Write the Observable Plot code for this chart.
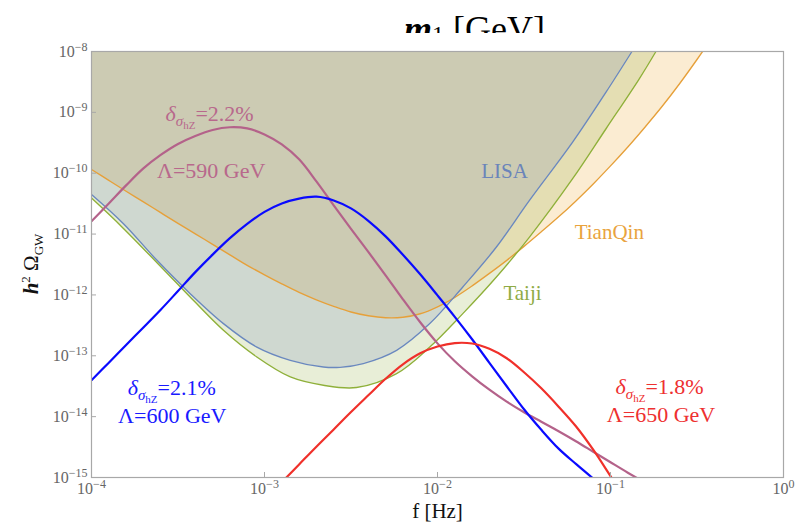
<!DOCTYPE html>
<html><head><meta charset="utf-8">
<script src="https://cdn.jsdelivr.net/npm/d3@7"></script>
<script src="https://cdn.jsdelivr.net/npm/@observablehq/plot@0.6"></script>
<style>
body{margin:0;background:#fff;}
#wrap{position:relative;width:806px;height:527px;}
#title{position:absolute;left:404px;top:0;height:33px;width:170px;overflow:hidden;z-index:2;}
#title .t{position:absolute;top:11px;left:0;font-family:"Liberation Serif";font-size:36px;line-height:36px;white-space:nowrap;color:#000;}
#title .s{font-size:24px;position:relative;top:1px;}
</style></head>
<body><div id="wrap"><div id="title"><div class="t"><b><i>m</i></b><span class="s">1</span> [GeV]</div></div></div>
<script>
// ---- frequency grid (Hz), tenth-decade steps ----
const freq = [1e-4, 1.259e-4, 1.585e-4, 1.995e-4, 2.512e-4, 3.162e-4, 3.981e-4, 5.012e-4, 6.310e-4, 7.943e-4,
  1e-3, 1.259e-3, 1.585e-3, 1.995e-3, 2.512e-3, 3.162e-3, 3.981e-3, 5.012e-3, 6.310e-3, 7.943e-3,
  1e-2, 1.259e-2, 1.585e-2, 1.995e-2, 2.512e-2, 3.162e-2, 3.981e-2, 5.012e-2, 6.310e-2, 7.943e-2,
  0.1, 0.1259, 0.1585, 0.1995, 0.2512, 0.3162, 0.3981];

// ---- detector sensitivity curves (h^2 Omega_GW) ----
const lisaF = [1e-4, 1.53e-4, 2.39e-4, 3.72e-4, 5.79e-4, 9.03e-4, 1.41e-3, 2.19e-3, 2.73e-3, 3.72e-3, 5.80e-3, 9.02e-3, 1.40e-2, 2.19e-2, 3.40e-2, 6.04e-2, 9.42e-2, 0.133];
const lisaV = [4.47e-11, 1.48e-11, 3.70e-12, 1.05e-12, 3.38e-13, 1.39e-13, 8.43e-14, 6.54e-14, 6.46e-14, 7.45e-14, 1.23e-13, 3.38e-13, 1.35e-12, 6.12e-12, 3.57e-11, 3.24e-10, 2.15e-9, 1e-8];
const taijiF = [1e-4, 1.53e-4, 3.33e-4, 5.79e-4, 9.03e-4, 1.41e-3, 2.19e-3, 3.40e-3, 5.80e-3, 9.02e-3, 1.40e-2, 2.19e-2, 3.40e-2, 6.04e-2, 9.42e-2, 0.1466, 0.183];
const taijiV = [3.90e-11, 1.24e-11, 1.28e-12, 2.62e-13, 9.55e-14, 4.49e-14, 3.28e-14, 3.01e-14, 5.10e-14, 1.39e-13, 4.93e-13, 1.97e-12, 8.93e-12, 8.12e-11, 5.38e-10, 3.56e-9, 1e-8];
const tianqinF = freq.slice(0, 37);
const tianqinV = [1.15e-10, 7.62e-11, 5.06e-11, 3.38e-11, 2.25e-11, 1.50e-11, 1.01e-11, 6.78e-12, 4.56e-12, 3.06e-12,
  2.14e-12, 1.52e-12, 1.10e-12, 8.32e-13, 6.50e-13, 5.24e-13, 4.54e-13, 4.21e-13, 4.29e-13, 4.90e-13,
  6.38e-13, 9.14e-13, 1.41e-12, 2.26e-12, 3.70e-12, 6.28e-12, 1.09e-11, 1.92e-11, 3.51e-11, 6.67e-11,
  1.32e-10, 2.70e-10, 5.76e-10, 1.27e-9, 2.98e-9, 7.39e-9, 1.90e-8];

// ---- GW spectra ----
const purpleF = freq.slice(0, 33);
const purpleV = [1.62e-11, 3.19e-11, 6.31e-11, 1.20e-10, 2.00e-10, 3.03e-10, 4.10e-10, 5.14e-10, 5.69e-10, 5.44e-10,
  4.34e-10, 2.97e-10, 1.69e-10, 7.33e-11, 2.96e-11, 1.22e-11, 5.10e-12, 2.10e-12, 8.47e-13, 3.55e-13,
  1.60e-13, 8.13e-14, 4.60e-14, 2.77e-14, 1.76e-14, 1.18e-14, 8.24e-15, 5.75e-15, 3.94e-15, 2.65e-15,
  1.78e-15, 1.20e-15, 8.22e-16];
const blueF = freq.slice(0, 30);
const blueV = [3.96e-14, 7.71e-14, 1.51e-13, 2.92e-13, 5.71e-13, 1.16e-12, 2.37e-12, 4.60e-12, 8.57e-12, 1.47e-11,
  2.32e-11, 3.19e-11, 3.83e-11, 4.11e-11, 3.57e-11, 2.64e-11, 1.65e-11, 9.16e-12, 4.56e-12, 2.18e-12,
  9.84e-13, 4.37e-13, 1.87e-13, 7.67e-14, 3.16e-14, 1.32e-14, 6.07e-15, 2.98e-15, 1.67e-15, 9.6e-16];
const redF = freq.slice(11, 32);
const redV = [8.37e-16, 1.64e-15, 3.21e-15, 6.17e-15, 1.19e-14, 2.24e-14, 4.19e-14, 7.25e-14, 1.10e-13, 1.42e-13,
  1.62e-13, 1.59e-13, 1.30e-13, 9.10e-14, 5.36e-14, 2.92e-14, 1.46e-14, 6.95e-15, 2.86e-15, 1.05e-15, 3.79e-16];

// ---- ticks ----
const xTicks = [1e-4, 1e-3, 1e-2, 1e-1, 1];
const yTicks = [1e-15, 1e-14, 1e-13, 1e-12, 1e-11, 1e-10, 1e-9, 1e-8];

// ---- labels ----
const detNames = ["LISA", "TianQin", "Taiji"];
const detLabelF = [2.44e-2, 9.84e-2, 3.10e-2];
const detLabelV = [8.2e-11, 8.2e-12, 8.1e-13];
const detColors = ["#6a84ba", "#e9a33e", "#8fab45"];
const noteF = [4.85e-4, 2.93e-4, 0.1936];
const noteV = [7.1e-10, 2.25e-14, 2.33e-14];
const notePct = ["=2.2%", "=2.1%", "=1.8%"];
const lambdaText = ["Λ=590 GeV", "Λ=600 GeV", "Λ=650 GeV"];
const lambdaF = [4.92e-4, 2.93e-4, 0.196];
const lambdaV = [8.2e-11, 7.8e-15, 8.1e-15];
const noteColors = ["#b8688c", "#1a1aff", "#ee3030"];

const zip = (F, V) => F.map((f, i) => ({f, v: V[i]}));
const lisa = zip(lisaF, lisaV), taiji = zip(taijiF, taijiV), tianqin = zip(tianqinF, tianqinV);
const purple = zip(purpleF, purpleV), blue = zip(blueF, blueV), red = zip(redF, redV);
const yTop = () => 1e-8;
const curve = "catmull-rom";
const fmt = d => "10^" + Math.round(Math.log10(d));

const plot = Plot.plot({
  width: 806, height: 527,
  marginLeft: 91, marginRight: 23, marginTop: 51, marginBottom: 50,
  style: {fontFamily: "Liberation Serif", background: "white", overflow: "visible"},
  x: {type: "log", domain: [1e-4, 1]},
  y: {type: "log", domain: [1e-15, 1e-8]},
  marks: [
    Plot.areaY(tianqin, {x: "f", y1: "v", y2: yTop, fill: "#eba01e", fillOpacity: 0.2, curve, clip: true}),
    Plot.areaY(taiji, {x: "f", y1: "v", y2: yTop, fill: "#8caa37", fillOpacity: 0.2, curve, clip: true}),
    Plot.areaY(lisa, {x: "f", y1: "v", y2: yTop, fill: "#7080b4", fillOpacity: 0.2, curve, clip: true}),
    Plot.line(tianqin, {x: "f", y: "v", stroke: "#e6a03a", strokeWidth: 1.4, curve, clip: true}),
    Plot.line(taiji, {x: "f", y: "v", stroke: "#8fb03a", strokeWidth: 1.4, curve, clip: true}),
    Plot.line(lisa, {x: "f", y: "v", stroke: "#6a88bf", strokeWidth: 1.4, curve, clip: true}),
    Plot.line(purple, {x: "f", y: "v", stroke: "#b4628a", strokeWidth: 2.2, curve, clip: true}),
    Plot.line(blue, {x: "f", y: "v", stroke: "#0a0aff", strokeWidth: 2.2, curve, clip: true}),
    Plot.line(red, {x: "f", y: "v", stroke: "#f0302a", strokeWidth: 2.2, curve, clip: true}),
    Plot.frame({stroke: "#a8a8a8", strokeWidth: 1.2}),
    Plot.tickX(xTicks, {x: d => d, stroke: "#a8a8a8", insetTop: 421}),
    Plot.tickY(yTicks, {y: d => d, stroke: "#a8a8a8", insetRight: 687}),
    Plot.axisX(xTicks, {tickSize: 0, tickPadding: 5, tickFormat: fmt, label: null, fontSize: 16, fill: "#666"}),
    Plot.axisY(yTicks, {tickSize: 0, tickPadding: 4, tickFormat: fmt, label: null, fontSize: 16, fill: "#666"}),
    Plot.text(["f [Hz]"], {frameAnchor: "bottom", text: d => d, dy: 40, fontSize: 21, fill: "#111"}),
    ...detNames.map((n, i) => Plot.text([n], {x: () => detLabelF[i], y: () => detLabelV[i], text: d => d, fill: detColors[i], fontSize: 21, lineAnchor: "bottom"})),
    ...lambdaText.map((t, i) => Plot.text([t], {x: () => lambdaF[i], y: () => lambdaV[i], text: d => d, fill: noteColors[i], fontSize: 22, lineAnchor: "bottom"}))
  ]
});

document.getElementById("wrap").appendChild(plot);
const svg = d3.select(plot);

// superscript tick labels
svg.selectAll('[aria-label="x-axis tick label"] text, [aria-label="y-axis tick label"] text').each(function() {
  const t = d3.select(this);
  const s = t.text();
  if (!s.includes("^")) return;
  const [b, e] = s.split("^");
  t.text(null);
  t.append("tspan").text(b);
  t.append("tspan").attr("dy", -6).attr("font-size", 12).text(e.replace("-", "\u2212"));
});

// delta annotations through the plot's scales
const sx = plot.scale("x"), sy = plot.scale("y");
const g = svg.append("g").attr("font-family", "Liberation Serif");
noteF.forEach((f, i) => {
  const t = g.append("text").attr("x", sx.apply(f)).attr("y", sy.apply(noteV[i]))
    .attr("text-anchor", "middle").attr("fill", noteColors[i]).attr("font-size", 22);
  t.append("tspan").attr("font-style", "italic").text("δ");
  t.append("tspan").attr("font-style", "italic").attr("font-size", 15).attr("dy", 5).text("σ");
  t.append("tspan").attr("font-size", 11).attr("dy", 3).text("hZ");
  t.append("tspan").attr("dy", -8).text(notePct[i]);
});

// y axis label
const yl = svg.append("text").attr("transform", `translate(38,${(sy.apply(1e-15) + sy.apply(1e-8)) / 2}) rotate(-90)`)
  .attr("text-anchor", "middle").attr("font-family", "Liberation Serif").attr("font-size", 21).attr("fill", "#111");
yl.append("tspan").attr("font-weight", "bold").attr("font-style", "italic").text("h");
yl.append("tspan").attr("font-size", 13).attr("dy", -8).text("2");
yl.append("tspan").attr("dy", 8).text(" Ω");
yl.append("tspan").attr("font-size", 13).attr("dy", 5).text("GW");
</script>
</body></html>
